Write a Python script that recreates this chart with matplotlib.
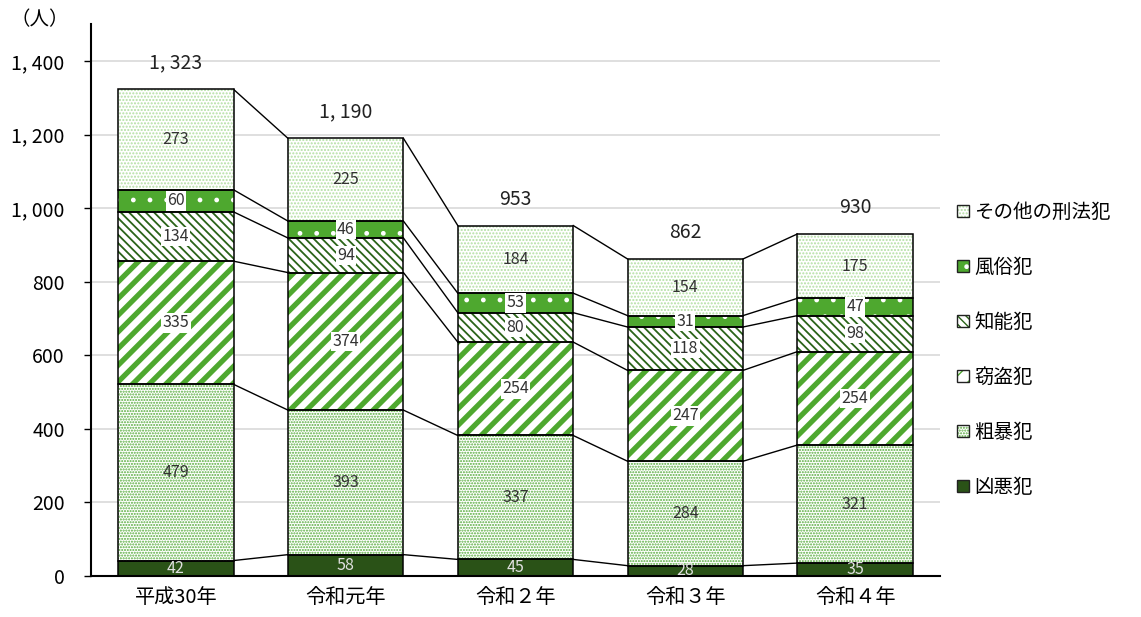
"""Stacked bars of offences by category, 平成30年 - 令和4年."""
import numpy as np
import matplotlib as mpl
import matplotlib.pyplot as plt
from matplotlib.patches import Patch

mpl.rcParams["font.family"] = ["Noto Sans CJK JP", "DejaVu Sans"]

years = ["平成30年", "令和元年", "令和２年", "令和３年", "令和４年"]
series_names = ["凶悪犯", "粗暴犯", "窃盗犯", "知能犯", "風俗犯", "その他の刑法犯"]
kyoaku = [42, 58, 45, 28, 35]
soboku = [479, 393, 337, 284, 321]
settou = [335, 374, 254, 247, 254]
chinou = [134, 94, 80, 118, 98]
fuzoku = [60, 46, 53, 31, 47]
sonota = [273, 225, 184, 154, 175]
y_ticks = [0, 200, 400, 600, 800, 1000, 1200, 1400]

# face, hatch, hatch colour, hatch linewidth, label colour, white box
STYLES = [
    ("#2a5217", None, None, 1.0, "#e0e0e0", False),
    ("white", "......", "#55ab3b", 1.0, "#333333", False),
    ("white", "//", "#4ea82f", 3.8, "#333333", True),
    ("white", "\\\\\\\\", "#2a6418", 1.3, "#333333", True),
    ("#4ea82f", ".", "white", 1.0, "#333333", True),
    ("white", ".....", "#b3dfa3", 1.0, "#333333", False),
]

data = np.array([kyoaku, soboku, settou, chinou, fuzoku, sonota])
totals = data.sum(axis=0)
x = np.arange(len(years))
width = 0.68

fig = plt.figure(figsize=(11.41, 6.17), dpi=100)
ax = fig.add_axes([0.0798, 0.0665, 0.744, 0.894])

bottom = np.zeros(len(years))
handles = []
for vals, name, (fc, hatch, hc, hlw, tc, box) in zip(data, series_names, STYLES):
    with mpl.rc_context({"hatch.linewidth": hlw}):
        ax.bar(x, vals, width, bottom=bottom, color=fc, hatch=hatch,
               edgecolor=hc if hc else fc, linewidth=0, zorder=2)
    ax.bar(x, vals, width, bottom=bottom, fill=False, edgecolor="black",
           linewidth=1.1, zorder=3)
    with mpl.rc_context({"hatch.linewidth": min(hlw, 1.0)}):
        hp = Patch(facecolor=fc, hatch=hatch, edgecolor=hc if hc else fc, linewidth=0)
    handles.append((hp, Patch(fill=False, edgecolor="#222222", linewidth=1.0)))
    for xi, v, b in zip(x, vals, bottom):
        bb = dict(boxstyle="square,pad=0.08", fc="white", ec="none") if box else None
        ax.text(xi, b + v / 2, str(v), ha="center", va="center", fontsize=11.5,
                color=tc, bbox=bb, zorder=5)
    bottom = bottom + vals

# connector lines between adjacent bars
cum = np.cumsum(data, axis=0)
for level in cum:
    for i in range(len(years) - 1):
        ax.plot([x[i] + width / 2, x[i + 1] - width / 2], [level[i], level[i + 1]],
                color="black", lw=1.0, zorder=1)

for xi, t in zip(x, totals):
    ax.text(xi, t + 72, f"{t:,}".replace(",", ", "), ha="center", va="center",
            fontsize=14, color="#222222")

ax.set_xlim(-0.5, 4.5)
ax.set_ylim(0, 1500)
ax.set_yticks(y_ticks)
ax.set_yticklabels([f"{v:,}".replace(",", ", ") for v in y_ticks], fontsize=14)
ax.set_xticks(x)
ax.set_xticklabels(years, fontsize=14.5)
ax.tick_params(axis="x", length=0, pad=8)
ax.tick_params(axis="y", length=5, width=1, direction="out", pad=14)
ax.grid(axis="y", color="#d9d9d9", lw=1.2, zorder=0)
ax.set_axisbelow(True)
for s in ("top", "right"):
    ax.spines[s].set_visible(False)
ax.spines["left"].set_linewidth(1.5)
ax.spines["bottom"].set_linewidth(1.5)

fig.text(0.035, 0.968, "（人）", fontsize=14, ha="center", va="center")

ax.legend(handles[::-1], series_names[::-1], loc="center left",
          bbox_to_anchor=(1.0, 0.41), frameon=False, fontsize=14,
          handlelength=0.6, handleheight=0.6, handletextpad=0.25,
          labelspacing=1.75)

fig.savefig("out.png", dpi=100)
